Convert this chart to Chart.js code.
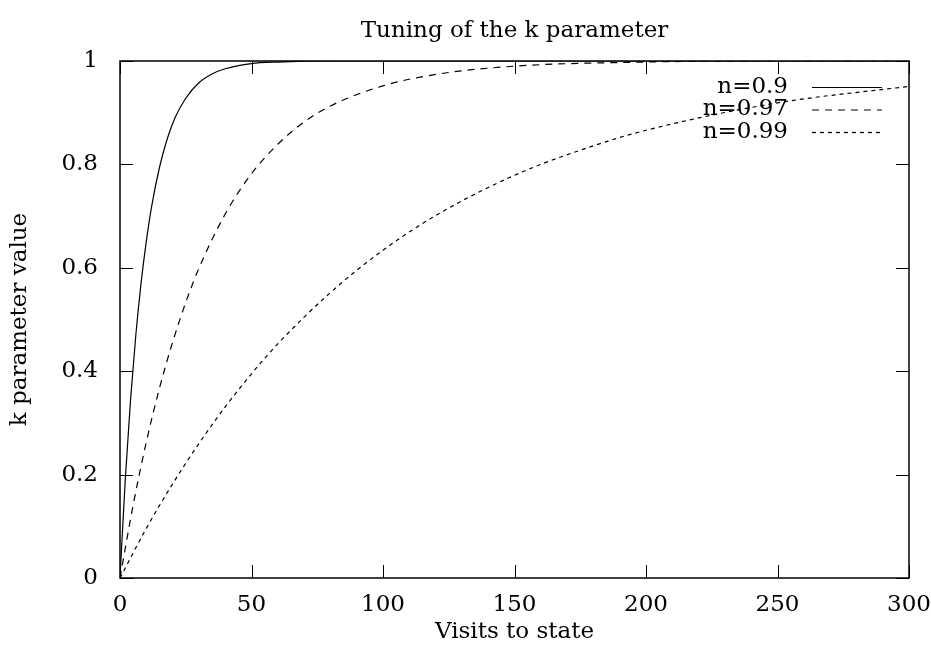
<!DOCTYPE html>
<html>
<head>
<meta charset="utf-8">
<script src="https://cdn.jsdelivr.net/npm/chart.js@4.4.1/dist/chart.umd.min.js"></script>
<style>
  html, body { margin: 0; padding: 0; background: #fff; }
  #wrap { width: 931px; height: 646px; }
</style>
</head>
<body>
<div id="wrap"><canvas id="kChart" width="931" height="646"></canvas></div>
<script>
// values
const xTicks = [0, 50, 100, 150, 200, 250, 300];
const yTicks = [0, 0.2, 0.4, 0.6, 0.8, 1];

const visits09 = [0, 2, 4, 6, 8, 10, 12, 15, 18, 21, 25, 30, 35, 40, 50, 60, 80, 100, 150, 200, 250, 300];
const k09 = [0, 0.19, 0.344, 0.469, 0.57, 0.651, 0.718, 0.794, 0.85, 0.891, 0.928, 0.958, 0.975, 0.985, 0.995, 0.998, 1, 1, 1, 1, 1, 1];

const visits097 = [0, 5, 10, 15, 20, 25, 30, 40, 50, 60, 70, 80, 100, 120, 150, 200, 250, 300];
const k097 = [0, 0.141, 0.263, 0.367, 0.456, 0.533, 0.599, 0.704, 0.782, 0.839, 0.882, 0.913, 0.952, 0.974, 0.99, 0.998, 1, 1];

const visits099 = [0, 10, 20, 30, 40, 50, 60, 80, 100, 120, 150, 180, 200, 250, 300];
const k099 = [0, 0.096, 0.182, 0.26, 0.331, 0.395, 0.453, 0.552, 0.634, 0.701, 0.779, 0.836, 0.866, 0.919, 0.951];

const FONT = "'DejaVu Serif', serif";
const FSIZE = 23;

function toPoints(xs, ys) {
  return xs.map((x, i) => ({ x: x, y: ys[i] }));
}

// frame + inward ticks on all four sides, gnuplot style
const framePlugin = {
  id: 'frame',
  afterDatasetsDraw(chart) {
    const { ctx, chartArea: a, scales } = chart;
    const len = 13;
    ctx.save();
    ctx.strokeStyle = '#000';
    ctx.lineWidth = 1;
    ctx.beginPath();
    xTicks.forEach(v => {
      const px = Math.round(scales.x.getPixelForValue(v)) + 0.5;
      ctx.moveTo(px, a.bottom); ctx.lineTo(px, a.bottom - len);
      ctx.moveTo(px, a.top); ctx.lineTo(px, a.top + len);
    });
    yTicks.forEach(v => {
      const py = Math.round(scales.y.getPixelForValue(v)) + 0.5;
      ctx.moveTo(a.left, py); ctx.lineTo(a.left + len, py);
      ctx.moveTo(a.right, py); ctx.lineTo(a.right - len, py);
    });
    ctx.stroke();
    ctx.lineWidth = 1.5;
    ctx.strokeRect(a.left, a.top, a.right - a.left, a.bottom - a.top);
    ctx.restore();
  }
};

// title centred on the plot area
const titlePlugin = {
  id: 'plotTitle',
  afterDraw(chart) {
    const { ctx, chartArea: a } = chart;
    ctx.save();
    ctx.font = FSIZE + 'px ' + FONT;
    ctx.fillStyle = '#000';
    ctx.textAlign = 'center';
    ctx.textBaseline = 'middle';
    ctx.fillText('Tuning of the k parameter', (a.left + a.right) / 2, 31);
    ctx.restore();
  }
};

// key in the top right, text right aligned then a line sample
const keyPlugin = {
  id: 'key',
  afterDatasetsDraw(chart) {
    const { ctx, chartArea: a } = chart;
    ctx.save();
    ctx.font = FSIZE + 'px ' + FONT;
    ctx.textAlign = 'right';
    ctx.textBaseline = 'middle';
    chart.data.datasets.forEach((ds, i) => {
      const y = a.top + 26 + i * 22.5;
      ctx.fillStyle = '#000';
      ctx.fillText(ds.label, a.right - 121, y);
      ctx.strokeStyle = '#000';
      ctx.lineWidth = ds.borderWidth;
      ctx.setLineDash(ds.borderDash || []);
      ctx.beginPath();
      ctx.moveTo(a.right - 97, y + 0.5);
      ctx.lineTo(a.right - 27, y + 0.5);
      ctx.stroke();
    });
    ctx.restore();
  }
};

new Chart(document.getElementById('kChart'), {
  type: 'line',
  data: {
    datasets: [
      { label: 'n=0.9', data: toPoints(visits09, k09), borderColor: '#000', borderWidth: 1.2, borderDash: [] },
      { label: 'n=0.97', data: toPoints(visits097, k097), borderColor: '#000', borderWidth: 1.2, borderDash: [7, 6] },
      { label: 'n=0.99', data: toPoints(visits099, k099), borderColor: '#000', borderWidth: 1.2, borderDash: [4, 4] }
    ]
  },
  options: {
    responsive: false,
    animation: false,
    layout: { padding: { top: 61, right: 22, left: 0, bottom: 0 } },
    elements: {
      point: { radius: 0 },
      line: { cubicInterpolationMode: 'monotone', fill: false }
    },
    plugins: {
      legend: { display: false },
      tooltip: { enabled: false }
    },
    scales: {
      x: {
        type: 'linear',
        min: 0, max: 300,
        afterBuildTicks: s => { s.ticks = xTicks.map(v => ({ value: v })); },
        afterFit: s => { s.height = 68; s.paddingLeft = 0; s.paddingRight = 0; },
        grid: { display: false, drawTicks: false },
        border: { display: false },
        ticks: { color: '#000', padding: 13, font: { family: FONT, size: FSIZE } },
        title: { display: true, text: 'Visits to state', color: '#000', font: { family: FONT, size: FSIZE }, padding: { top: 0, bottom: 0 } }
      },
      y: {
        type: 'linear',
        min: 0, max: 1,
        afterBuildTicks: s => { s.ticks = yTicks.map(v => ({ value: v })); },
        afterFit: s => { s.width = 120; s.paddingTop = 0; s.paddingBottom = 0; },
        grid: { display: false, drawTicks: false },
        border: { display: false },
        ticks: { color: '#000', padding: 22, font: { family: FONT, size: FSIZE }, callback: v => String(v) },
        title: { display: true, text: 'k parameter value', color: '#000', font: { family: FONT, size: FSIZE }, padding: { top: 6, bottom: 0 } }
      }
    }
  },
  plugins: [framePlugin, titlePlugin, keyPlugin]
});
</script>
</body>
</html>
